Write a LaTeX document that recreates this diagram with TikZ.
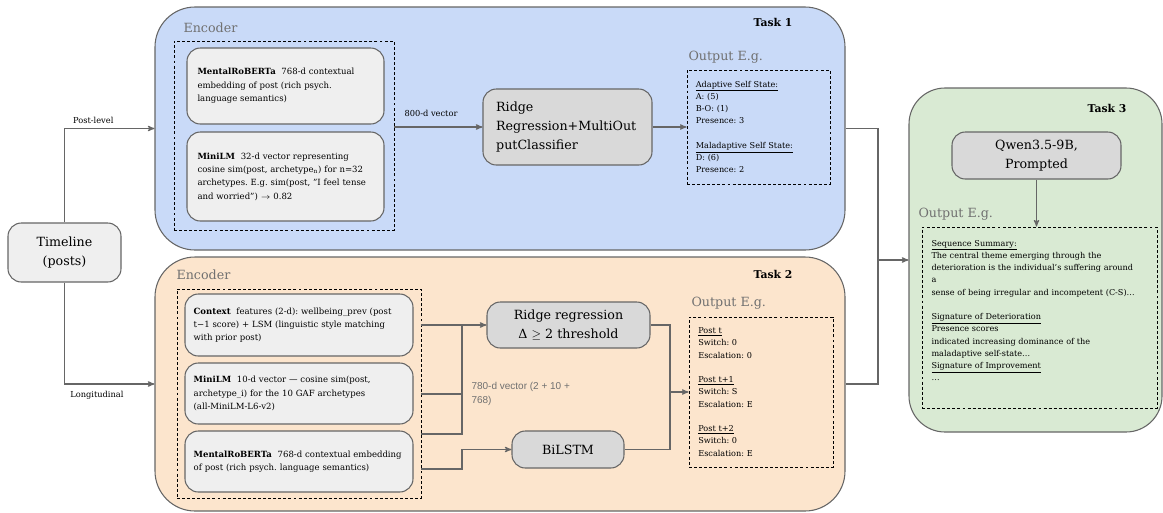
\documentclass[tikz,border=0pt]{standalone}
\usepackage{fontspec}
\setmainfont{DejaVu Serif}
\newfontfamily\arialfont{Liberation Sans}
\usepackage{tikz}
\usetikzlibrary{arrows,positioning}
\frenchspacing

\definecolor{taskblue}{HTML}{C9DAF8}
\definecolor{taskorange}{HTML}{FCE5CD}
\definecolor{taskgreen}{HTML}{D9EAD3}
\definecolor{boxgray}{HTML}{EFEFEF}
\definecolor{modelgray}{HTML}{D9D9D9}
\definecolor{edgegray}{HTML}{666666}
\definecolor{labelgray}{HTML}{707070}

\newcommand\bigtext{\fontsize{9.5}{13.9}\selectfont}
\newcommand\smalltext{\fontsize{6.4}{10}\selectfont}
\newcommand\outtext{\fontsize{6.1}{9.2}\selectfont}
\newcommand\notetext{\fontsize{6.2}{8}\selectfont}
\newcommand\tasktext{\fontsize{8.1}{10}\selectfont\bfseries}
\newcommand\vectext{\arialfont\fontsize{7.5}{10.5}\selectfont}

\begin{document}
\begin{tikzpicture}[->,>=stealth',x=0.75pt,y=-0.75pt,line width=0.8pt]
                \tikzset{boxsize/.style 2 args={minimum width={#1*0.75pt}, minimum height={#2*0.75pt}},
                         task/.style={draw=edgegray, rounded corners=30pt, inner sep=0pt},
                         enc/.style={draw=black, dash pattern=on 2.2pt off 1.6pt, line width=0.7pt, inner sep=0pt},
                         feat/.style={draw=edgegray, fill=boxgray, rounded corners=10pt, inner sep=0pt, align=left, font=\smalltext},
                         model/.style={draw=edgegray, fill=modelgray, rounded corners=10pt, inner sep=0pt, font=\bigtext},
                         caption/.style={text=labelgray, font=\bigtext, inner sep=0pt, anchor=west},
                         tasklabel/.style={font=\tasktext, inner sep=0pt, anchor=east},
                         outtxt/.style={font=\outtext, align=left},
                         link/.style={draw=edgegray},
                         wire/.style={-, draw=edgegray},
                         every edge/.style={draw=edgegray}}
                \useasboundingbox (0,0) rectangle (1163,512);

                \node[task, fill=taskblue, boxsize={690}{243}] (T1) at (500,128.5) {};
                \node[task, fill=taskorange, boxsize={690}{254}] (T2) at (500,384) {};
                \node[task, fill=taskgreen, rounded corners=27pt, boxsize={253}{344}] (T3) at (1035.5,260) {};
                \node[feat, font=\bigtext, align=center, boxsize={113}{59}] (TL) at (64.5,252.5) {Timeline\\(posts)};

                \node[caption] (C1) at (183,28) {Encoder};
                \node[enc, boxsize={220}{189}] (E1) at (284,135.5) {};
                \node[feat, text width=132pt, boxsize={197}{76}] (M1) at (285.5,86) {\textbf{MentalRoBERTa}\ \ 768-d contextual\\embedding of post (rich psych.\\language semantics)};
                \node[feat, text width=132pt, boxsize={197}{89}] (L1) at (285.5,176.5) {\textbf{MiniLM}\ \ 32-d vector representing\\cosine sim(post, archetype\textsubscript{n}) for n=32\\archetypes. E.g. sim(post, "I feel tense\\and worried") $\to$ 0.82};
                \node[font=\notetext, inner sep=0pt] (V1) at (431,113) {800-d vector};
                \node[model, align=left, text width=107pt, boxsize={169}{76}] (R1) at (567.5,127) {Ridge\\Regression+MultiOut\\putClassifier};
                \node[caption] (P1) at (688,57) {Output E.g.};
                \node[enc, outtxt, text width=94pt, boxsize={143}{114}] (O1) at (758.5,127) {\underline{Adaptive Self State:}\\A: (5)\\B-O: (1)\\Presence: 3\\[9.2pt]\underline{Maladaptive Self State:}\\D: (6)\\Presence: 2};
                \node[tasklabel] (K1) at (793,22) {Task 1};

                \node[caption] (C2) at (176,275) {Encoder};
                \node[enc, boxsize={244}{209}] (E2) at (299,393.5) {};
                \node[feat, text width=158pt, boxsize={228}{62}] (X2) at (299,325) {\textbf{Context}\ \ features (2-d): wellbeing\_prev (post\\t−1 score) + LSM (linguistic style matching\\with prior post)};
                \node[feat, text width=158pt, boxsize={228}{61}] (L2) at (299,393.5) {\textbf{MiniLM}\ \ 10-d vector — cosine sim(post,\\archetype\_i) for the 10 GAF archetypes\\(all-MiniLM-L6-v2)};
                \node[feat, text width=158pt, boxsize={228}{61}] (M2) at (299,461.5) {\textbf{MentalRoBERTa}\ \ 768-d contextual embedding\\of post (rich psych. language semantics)};
                \node[model, align=center, boxsize={163}{46}] (R2) at (568.5,325) {Ridge regression\\Δ $\geq$ 2 threshold};
                \node[model, boxsize={112}{37}] (S2) at (568,449.5) {BiLSTM};
                \node[font=\vectext, text=labelgray, align=left, inner sep=0pt, anchor=west] (V2) at (471,394) {780-d vector (2 + 10 +\\768)};
                \node[caption] (P2) at (691,303) {Output E.g.};
                \node[enc, outtxt, text width=94pt, boxsize={144}{150}] (O2) at (761,392) {\underline{Post t}\\Switch: 0\\Escalation: 0\\[9.2pt]\underline{Post t+1}\\Switch: S\\Escalation: E\\[9.2pt]\underline{Post t+2}\\Switch: 0\\Escalation: E};
                \node[tasklabel] (K2) at (793,274) {Task 2};

                \node[tasklabel] (K3) at (1127,108) {Task 3};
                \node[model, align=center, boxsize={169}{47}] (Q3) at (1036.5,155.5) {Qwen3.5-9B,\\Prompted};
                \node[caption] (P3) at (918,214) {Output E.g.};
                \node[enc, outtxt, text width=162pt, boxsize={235}{181}] (O3) at (1039.5,317.5) {\underline{Sequence Summary:}\\The central theme emerging through the\\deterioration is the individual’s suffering around\\a\\sense of being irregular and incompetent (C-S)…\\[9.2pt]\underline{Signature of Deterioration}\\Presence scores\\indicated increasing dominance of the\\maladaptive self-state…\\\underline{Signature of Improvement}\\…\\[1.3pt]\mbox{}};

                \coordinate (J) at (878,260);
                \coordinate (B1) at (462,325);
                \coordinate (B2) at (462,394);
                \coordinate (B3) at (462,434);
                \coordinate (B4) at (462,469);
                \coordinate (J2) at (670,392);

                \draw[link] (TL.north) |- (T1.west) node[pos=0.66, above=3pt, font=\notetext, inner sep=0pt] {Post-level};
                \draw[link] (TL.south) |- (T2.west) node[pos=0.68, below=5pt, font=\notetext, inner sep=0pt] {Longitudinal};
                \draw[wire] (T1.east) -| (J);
                \draw[wire] (T2.east) -| (J);
                \path (J) edge (T3.west);

                \path (E1.east |- R1.west) edge (R1.west);
                \path (R1) edge (O1);

                \draw[wire] (E2.east |- B1) -- (B1) -- (B3) -- (E2.east |- B3);
                \draw[wire] (E2.east |- B2) -- (B2);
                \path (B1) edge (R2.west);
                \draw[link] (E2.east |- B4) -- (B4) |- (S2.west);
                \draw[wire] (R2.east) -| (J2);
                \draw[wire] (S2.east) -| (J2);
                \path (J2) edge (O2.west);

                \path (Q3.south) edge (Q3.south |- O3.north);
\end{tikzpicture}
\end{document}
